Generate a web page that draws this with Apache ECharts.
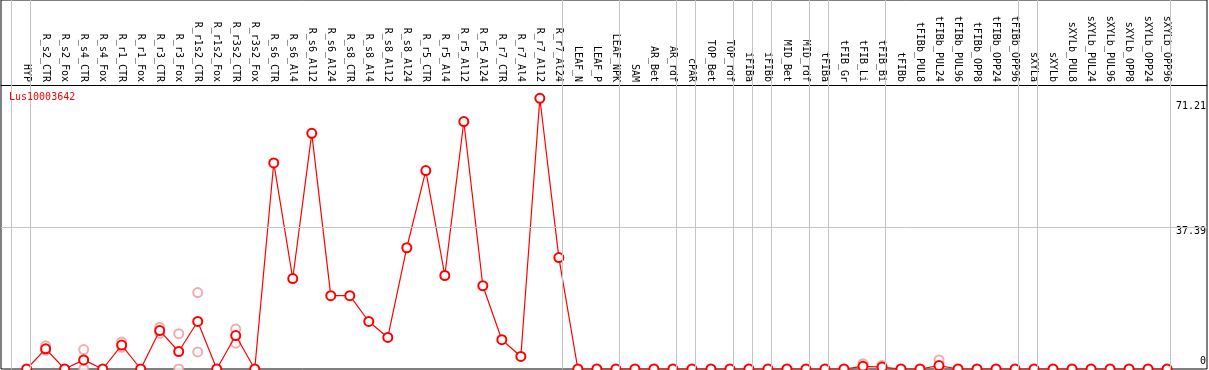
<!DOCTYPE html>
<html>
<head>
<meta charset="utf-8">
<script src="https://cdn.jsdelivr.net/npm/echarts@6/dist/echarts.min.js"></script>
<style>
html,body{margin:0;padding:0;background:#fff;}
#chart{width:1209px;height:370px;}
</style>
</head>
<body>
<div id="chart"></div>
<script>
const categories = ['HYP','R_s2_CTR','R_s2_Fox','R_s4_CTR','R_s4_Fox','R_r1_CTR','R_r1_Fox','R_r3_CTR','R_r3_Fox','R_r1s2_CTR','R_r1s2_Fox','R_r3s2_CTR','R_r3s2_Fox','R_s6_CTR','R_s6_Al4','R_s6_Al12','R_s6_Al24','R_s8_CTR','R_s8_Al4','R_s8_Al12','R_s8_Al24','R_r5_CTR','R_r5_Al4','R_r5_Al12','R_r5_Al24','R_r7_CTR','R_r7_Al4','R_r7_Al12','R_r7_Al24','LEAF_N','LEAF_P','LEAF_NPK','SAM','AR_Bet','AR_rdf','cPAR','TOP_Bet','TOP_rdf','iFIBa','iFIBb','MID_Bet','MID_rdf','tFIBa','tFIB_Gr','tFIB_Li','tFIB_Bi','tFIBb','tFIBb_PUL8','tFIBb_PUL24','tFIBb_PUL96','tFIBb_OPP8','tFIBb_OPP24','tFIBb_OPP96','sXYLa','sXYLb','sXYLb_PUL8','sXYLb_PUL24','sXYLb_PUL96','sXYLb_OPP8','sXYLb_OPP24','sXYLb_OPP96'];

const meanValues = [0,5.3,0,2.4,0,6.3,0,10.1,4.6,12.5,0,8.8,0,54.2,23.8,62.0,19.3,19.3,12.5,8.3,31.9,52.2,24.6,65.1,21.9,7.7,3.3,71.21,29.3,
  0,0,0,0,0,0,0,0,0,0,0,0,0,0,0,0.7,0.5,0,0,0.9,0,0,0,0,0,0,0,0,0,0,0,0];

// visible replicate points (others hidden under the mean marker)
const rep1 = {1:6.1,3:5.1,5:7.1,7:11.0,8:9.3,9:20.1,11:10.5,44:1.4,45:0.9,48:2.4};
const rep2 = {1:4.9,3:0,5:5.7,7:9.4,8:0,9:4.5,11:6.8,44:0,45:0.1,48:0};

const groupEnds = [-1,0,28,31,34,35,37,38,39,41,42,45,52,53,60];
const yTicks = [0,37.39,71.21];
const yTickLabels = ['0','37.39','71.21'];
const hGrid = [37.39];
const geneName = 'Lus10003642';

const FONT = 'DejaVu Sans Mono';
const lineOffset = 0.17;

const meanData = meanValues.map((v,i)=>[i,v]);
const repData = [];
[rep1,rep2].forEach(r=>Object.keys(r).forEach(k=>repData.push([Number(k), r[k]])));

const chart = echarts.init(document.getElementById('chart'), null, {renderer:'canvas'});
chart.setOption({
  animation:false,
  title:{text:geneName,left:9,top:92,padding:0,textStyle:{color:'#ff0000',fontFamily:FONT,fontSize:10,fontWeight:'normal'}},
  grid:{left:1,right:2,top:0,bottom:1,show:true,borderColor:'#000',borderWidth:1,backgroundColor:'transparent'},
  xAxis:{
    type:'value',min:-1.35,max:62.1,position:'top',offset:-85,
    axisLine:{show:true,onZero:false,lineStyle:{color:'#000',width:1}},
    axisTick:{show:false},splitLine:{show:false},
    axisLabel:{show:true,customValues:categories.map((c,i)=>i),rotate:90,margin:3,
      formatter:(v)=>categories[Math.round(v)]||'',color:'#000',fontFamily:FONT,fontSize:10,hideOverlap:false}
  },
  yAxis:{
    type:'value',min:0,max:97.07,position:'right',
    axisLine:{show:false},axisTick:{show:false},splitLine:{show:false},
    axisLabel:{show:true,inside:true,margin:1,customValues:yTicks,color:'#000',fontFamily:FONT,fontSize:10,
      formatter:(v)=>{const i=yTicks.findIndex(t=>Math.abs(t-v)<1e-6);const s=yTickLabels[i];
        return i===0?'{lo|'+s+'}':(i===1?'{mid|'+s+'}':'{hi|'+s+'}');},
      rich:{lo:{padding:[0,0,15,0],fontFamily:FONT,fontSize:10},mid:{padding:[10,0,0,0],fontFamily:FONT,fontSize:10},hi:{padding:[17,0,0,0],fontFamily:FONT,fontSize:10}}
    }
  },
  series:[
    {type:'line',data:[],silent:true,z:1,
      markLine:{silent:true,symbol:'none',label:{show:false},animation:false,
        lineStyle:{color:'#c4c4c4',width:1,type:'solid'},
        data:groupEnds.map(g=>({xAxis:g+lineOffset})).concat(hGrid.map(h=>({yAxis:h})))}},
    {type:'scatter',data:repData,z:2,silent:true,symbol:'emptyCircle',symbolSize:9,
      itemStyle:{color:'#e89a9a',borderColor:'#e89a9a',borderWidth:1.5}},
    {type:'line',data:meanData,z:3,silent:true,symbol:'emptyCircle',symbolSize:9,showAllSymbol:true,
      lineStyle:{color:'#ff0000',width:1.2},
      itemStyle:{color:'#ff0000',borderColor:'#ff0000',borderWidth:1.5}}
  ]
});
</script>
</body>
</html>
